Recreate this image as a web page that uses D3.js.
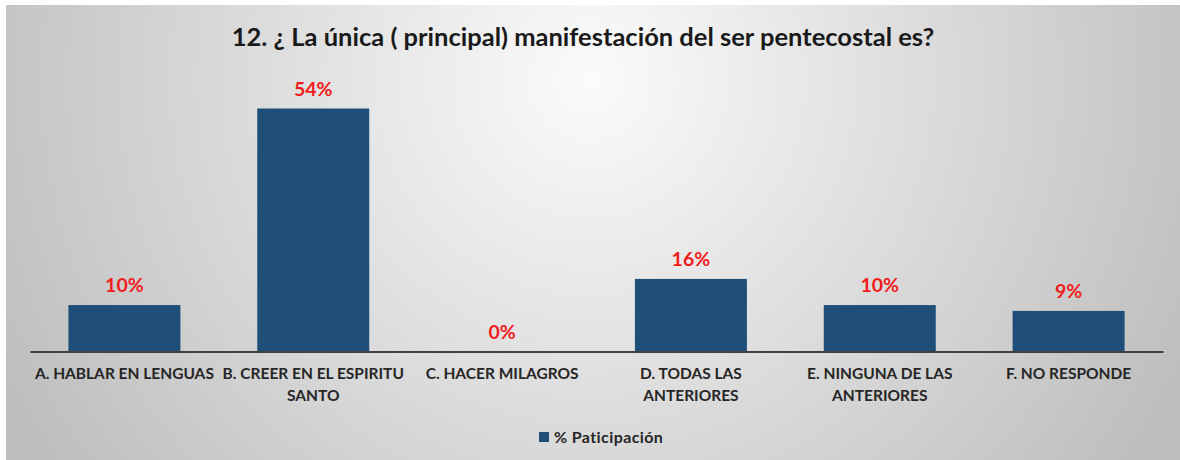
<!DOCTYPE html>
<html>
<head>
<meta charset="utf-8">
<script src="https://cdn.jsdelivr.net/npm/d3@7"></script>
<style>
  body { margin: 0; background: #ffffff; }
  svg text { font-family: Lato, "Open Sans", sans-serif; }
</style>
</head>
<body>
<div id="my_dataviz"></div>
<script>
// chart data
var title = "12. ¿ La única ( principal) manifestación del ser pentecostal es?";
var categories = ["A. HABLAR EN LENGUAS", "B. CREER EN EL ESPIRITU SANTO", "C. HACER MILAGROS",
                  "D. TODAS LAS ANTERIORES", "E. NINGUNA DE LAS ANTERIORES", "F. NO RESPONDE"];
var values = [10.3, 53.9, 0, 16.1, 10.3, 9.0];
var valueLabels = ["10%", "54%", "0%", "16%", "10%", "9%"];
var seriesName = "% Paticipación";

var W = 1180, H = 460;

var svg = d3.select("#my_dataviz")
            .append("svg")
              .attr("width", W)
              .attr("height", H);

// background with soft radial shading
var defs = svg.append("defs");
var grad = defs.append("radialGradient")
               .attr("id", "bg")
               .attr("gradientUnits", "userSpaceOnUse")
               .attr("cx", 590).attr("cy", 80).attr("r", 660);
grad.append("stop").attr("offset", "0%").attr("stop-color", "#fbfbfb");
grad.append("stop").attr("offset", "100%").attr("stop-color", "#bebebe");

svg.append("rect")
   .attr("x", 6).attr("y", 5)
   .attr("width", W - 6).attr("height", H - 5)
   .attr("fill", "url(#bg)");

// scales
var x = d3.scaleBand()
          .domain(categories)
          .range([30, 1163])
          .paddingInner(0.407)
          .paddingOuter(0.2035);

var y = d3.scaleLinear()
          .domain([0, 60])
          .range([351.5, 81]);

// title
svg.append("text")
   .attr("x", 583)
   .attr("y", 46)
   .attr("text-anchor", "middle")
   .style("font-size", "25.5px")
   .style("font-weight", "bold")
   .style("fill", "#1a1a1a")
   .text(title);

// bars
svg.append("g")
   .selectAll("rect")
   .data(values)
   .enter()
   .append("rect")
     .attr("x", function (d, i) { return x(categories[i]); })
     .attr("y", function (d) { return y(d); })
     .attr("width", x.bandwidth())
     .attr("height", function (d) { return y(0) - y(d); })
     .attr("fill", "#1f4e79");

// value labels
svg.append("g")
   .selectAll("text")
   .data(values)
   .enter()
   .append("text")
     .attr("x", function (d, i) { return x(categories[i]) + x.bandwidth() / 2; })
     .attr("y", function (d) { return y(d) - 13; })
     .attr("text-anchor", "middle")
     .style("font-size", "19.5px")
     .style("font-weight", "bold")
     .style("fill", "#f01c1c")
     .text(function (d, i) { return valueLabels[i]; });

// x axis
var xAxis = svg.append("g")
               .attr("transform", "translate(0," + y(0) + ")")
               .call(d3.axisBottom(x).tickSize(0).tickSizeOuter(0));

xAxis.select(".domain")
     .attr("stroke", "#404040")
     .attr("stroke-width", 2);

xAxis.selectAll("text")
     .attr("y", 27)
     .attr("dy", 0)
     .style("font-size", "15.5px")
     .style("font-weight", "bold")
     .style("fill", "#262626")
     .call(wrap, 188);

// legend
var legend = svg.append("g").attr("transform", "translate(539,432)");
legend.append("rect")
      .attr("width", 10).attr("height", 10)
      .attr("fill", "#1f4e79");
legend.append("text")
      .attr("x", 15)
      .attr("y", 11)
      .style("font-size", "16px")
      .style("font-weight", "bold")
      .style("letter-spacing", "0.4px")
      .style("fill", "#262626")
      .text(seriesName);

// wrap axis labels into lines that fit the band
function wrap(textSel, width) {
  textSel.each(function () {
    var text = d3.select(this),
        words = text.text().split(/\s+/),
        line = [],
        lineNo = 0,
        yy = text.attr("y"),
        tspan = text.text(null).append("tspan").attr("x", 0).attr("y", yy);
    words.forEach(function (w) {
      line.push(w);
      tspan.text(line.join(" "));
      if (tspan.node().getComputedTextLength() > width && line.length > 1) {
        line.pop();
        tspan.text(line.join(" "));
        line = [w];
        lineNo++;
        tspan = text.append("tspan")
                    .attr("x", 0)
                    .attr("y", +yy + lineNo * 22)
                    .text(w);
      }
    });
  });
}
</script>
</body>
</html>
